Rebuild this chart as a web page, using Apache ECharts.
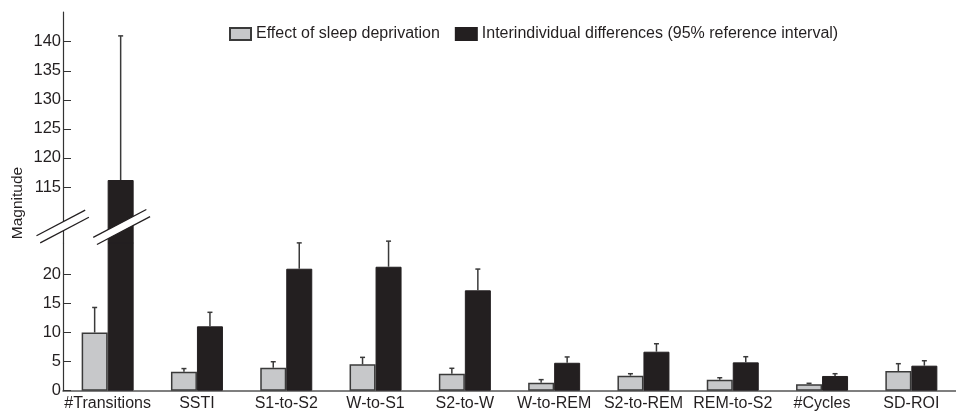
<!DOCTYPE html>
<html>
<head>
<meta charset="utf-8">
<style>html,body{margin:0;padding:0;background:#fff}#chart{width:956px;height:413px}</style>
<script src="https://cdn.jsdelivr.net/npm/echarts@6/dist/echarts.min.js"></script>
</head>
<body>
<div id="chart"></div>
<script>
// ---- data ----
const categories = ['#Transitions','SSTI','S1-to-S2','W-to-S1','S2-to-W','W-to-REM','S2-to-REM','REM-to-S2','#Cycles','SD-ROI'];
const sleepDepEffect = [10.0, 3.26, 3.95, 4.53, 2.92, 1.37, 2.58, 1.89, 1.10, 3.38];
const sleepDepErrTop = [14.3, 3.80, 4.98, 5.73, 3.85, 1.90, 2.92, 2.23, 1.27, 4.64];
const interindDiff   = [116.2, 11.06, 20.96, 21.3, 17.25, 4.80, 6.70, 4.87, 2.53, 4.30];
const interindErrTop = [141.0, 13.47, 25.4, 25.7, 20.9, 5.80, 8.07, 5.84, 2.92, 5.15];
const lowerTicks = [0, 5, 10, 15, 20];
const upperTicks = [115, 120, 125, 130, 135, 140];
const seriesNames = ['Effect of sleep deprivation', 'Interindividual differences (95% reference interval)'];
const yName = 'Magnitude';

// ---- layout / style ----
const FONT = "'Liberation Sans', Arial, sans-serif";
const TXT = '#231f20';
const GREY = '#c7c8ca', BLACK = '#231f20', EDGE = '#3a3a3a';
const BAR_W = 26;
const LOWER_MAX = 25.38, UPPER_MIN = 105.36, UPPER_MAX = 145.11;
const GRID_L = 63, GRID_W = 905.6;

const chart = echarts.init(document.getElementById('chart'), null, {renderer: 'canvas'});

function errRender(sign) {
  return function (params, api) {
    const base = api.coord([api.value(0), api.value(1)]);
    const top = api.coord([api.value(0), api.value(2)]);
    const cx = base[0] + sign * BAR_W / 2;
    const st = {stroke: EDGE, lineWidth: 1.5};
    return {type: 'group', children: [
      {type: 'line', shape: {x1: cx, y1: base[1], x2: cx, y2: top[1]}, style: st},
      {type: 'line', shape: {x1: cx - 2.5, y1: top[1], x2: cx + 2.5, y2: top[1]}, style: st}
    ]};
  };
}
const lowerSel = v => v <= LOWER_MAX;
const errData = (vals, tops, sel) => vals.map((v, i) => sel(v) ? [i, v, tops[i]] : null).filter(d => d);

const xAxisBase = {
  type: 'category', data: categories, boundaryGap: true,
  axisTick: {show: false}
};
const yLabel = {color: TXT, fontFamily: FONT, fontSize: 16.5, margin: 2};

const option = {
  animation: false,
  backgroundColor: '#fff',
  textStyle: {fontFamily: FONT},
  legend: {
    left: 224, top: 21,
    itemWidth: 21, itemHeight: 12, itemGap: 15,
    icon: 'rect',
    textStyle: {color: TXT, fontFamily: FONT, fontSize: 16},
    data: seriesNames
  },
  grid: [
    {left: GRID_L, width: GRID_W, top: 243, bottom: 22.3},
    {left: GRID_L, width: GRID_W, top: 12, height: 231}
  ],
  xAxis: [
    Object.assign({}, xAxisBase, {
      gridIndex: 0,
      axisLine: {show: true, lineStyle: {color: '#555', width: 1.5}},
      axisLabel: {color: TXT, fontFamily: FONT, fontSize: 16, margin: 5, interval: 0}
    }),
    Object.assign({}, xAxisBase, {gridIndex: 1, show: false})
  ],
  yAxis: [
    {
      type: 'value', gridIndex: 0, min: 0, max: LOWER_MAX,
      splitLine: {show: false},
      axisLine: {show: true, lineStyle: {color: '#333', width: 1.2}},
      axisTick: {show: true, inside: true, length: 8, lineStyle: {color: '#333'}, customValues: lowerTicks},
      axisLabel: Object.assign({customValues: lowerTicks}, yLabel)
    },
    {
      type: 'value', gridIndex: 1, min: UPPER_MIN, max: UPPER_MAX,
      splitLine: {show: false},
      axisLine: {show: true, lineStyle: {color: '#333', width: 1.2}},
      axisTick: {show: true, inside: true, length: 8, lineStyle: {color: '#333'}, customValues: upperTicks},
      axisLabel: Object.assign({customValues: upperTicks}, yLabel)
    }
  ],
  series: [
    {
      name: seriesNames[0], type: 'bar', xAxisIndex: 0, yAxisIndex: 0,
      barWidth: BAR_W, barGap: '0%', clip: true,
      itemStyle: {color: GREY, borderColor: EDGE, borderWidth: 1.5},
      data: sleepDepEffect
    },
    {
      name: seriesNames[1], type: 'bar', xAxisIndex: 0, yAxisIndex: 0,
      barWidth: BAR_W, barGap: '0%', clip: true,
      itemStyle: {color: BLACK, borderColor: BLACK, borderWidth: 1},
      data: interindDiff
    },
    {
      name: seriesNames[0], type: 'bar', xAxisIndex: 1, yAxisIndex: 1,
      barWidth: BAR_W, barGap: '0%', clip: true,
      itemStyle: {color: GREY, borderColor: EDGE, borderWidth: 1.5},
      data: sleepDepEffect.map(v => lowerSel(v) ? '-' : v)
    },
    {
      name: seriesNames[1], type: 'bar', xAxisIndex: 1, yAxisIndex: 1,
      barWidth: BAR_W, barGap: '0%', clip: true,
      itemStyle: {color: BLACK, borderColor: BLACK, borderWidth: 1},
      data: interindDiff.map(v => lowerSel(v) ? '-' : v)
    },
    {
      type: 'custom', xAxisIndex: 0, yAxisIndex: 0, clip: false, z: 5,
      renderItem: errRender(-1),
      data: errData(sleepDepEffect, sleepDepErrTop, lowerSel)
    },
    {
      type: 'custom', xAxisIndex: 0, yAxisIndex: 0, clip: false, z: 5,
      renderItem: errRender(1),
      data: errData(interindDiff, interindErrTop, lowerSel)
    },
    {
      type: 'custom', xAxisIndex: 1, yAxisIndex: 1, clip: false, z: 5,
      renderItem: errRender(1),
      data: errData(interindDiff, interindErrTop, v => !lowerSel(v))
    }
  ],
  graphic: [
    {
      type: 'text', x: 18, y: 203, rotation: Math.PI / 2,
      style: {text: yName, fill: TXT, font: '15.5px ' + FONT, align: 'center', verticalAlign: 'middle'}
    }
  ]
};
chart.setOption(option);

// axis-break marks (decoration): at y-axis and across the broken bar
function breakMark(cx, cy, half) {
  const th = 27.7 * Math.PI / 180;
  const d = [Math.cos(th), -Math.sin(th)];
  const n = [Math.sin(th), Math.cos(th)];
  const w = 4;
  const p1a = [cx - w * n[0] - half * d[0], cy - w * n[1] - half * d[1]];
  const p1b = [cx - w * n[0] + half * d[0], cy - w * n[1] + half * d[1]];
  const p2a = [cx + w * n[0] - half * d[0], cy + w * n[1] - half * d[1]];
  const p2b = [cx + w * n[0] + half * d[0], cy + w * n[1] + half * d[1]];
  const st = {stroke: '#231f20', lineWidth: 1.3};
  return {type: 'group', z: 100, children: [
    {type: 'polygon', shape: {points: [p1a, p1b, p2b, p2a]}, style: {fill: '#fff'}, z: 100},
    {type: 'line', shape: {x1: p1a[0], y1: p1a[1], x2: p1b[0], y2: p1b[1]}, style: st, z: 101},
    {type: 'line', shape: {x1: p2a[0], y1: p2a[1], x2: p2b[0], y2: p2b[1]}, style: st, z: 101}
  ]};
}
const barCx = chart.convertToPixel({xAxisIndex: 0}, 0) + BAR_W / 2 + 1;
const breakY = chart.convertToPixel({yAxisIndex: 1}, 108.2);
chart.setOption({graphic: option.graphic.concat([
  breakMark(GRID_L - 0.3, breakY, 27.5),
  breakMark(barCx, breakY + 0.5, 30)
])});
</script>
</body>
</html>
